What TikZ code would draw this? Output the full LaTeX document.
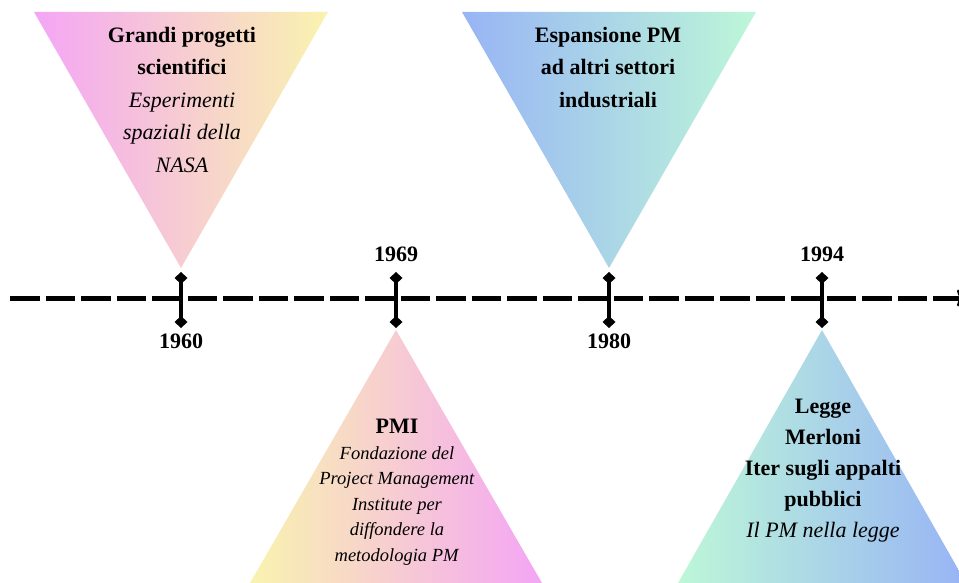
\documentclass[tikz,border=0pt]{standalone}
\usepackage{fontspec}
\setmainfont{LiberationSerif}[Extension=.ttf,
  UprightFont=*-Regular, BoldFont=*-Bold,
  ItalicFont=*-Italic, BoldItalicFont=*-BoldItalic]
\usetikzlibrary{arrows.meta,calc}

\definecolor{orchidL}{HTML}{F4A5F5}
\definecolor{butterL}{HTML}{F9F3AF}
\definecolor{skyL}{HTML}{98B4F5}
\definecolor{mintL}{HTML}{BDF7D8}

\begin{document}
\begin{tikzpicture}[x=1pt,y=-1pt,
  axisline/.style={line width=5pt, dash pattern=on 29.5pt off 6pt,
    -{To[length=7pt,width=17pt,line width=2.5pt]}},
  tickline/.style={line width=3.5pt,
    {Diamond[length=12pt,width=13pt]}-{Diamond[length=12pt,width=13pt]}},
  yearlabel/.style={font=\fontsize{22}{26}\selectfont\bfseries, anchor=base, inner sep=0pt},
  blocktext/.style={align=center, inner sep=0pt, anchor=north,
    font=\fontsize{22}{32.5}\selectfont},
]
\useasboundingbox (0,0) rectangle (959,583);
\clip (0,0) rectangle (959,583);

% timeline points
\coordinate (axisL) at (10,298);
\coordinate (axisR) at (964,298);
\coordinate (y1960) at (181,298);
\coordinate (y1969) at (396,298);
\coordinate (y1980) at (609,298);
\coordinate (y1994) at (822,298);

% shaded pointers
\path[left color=orchidL, right color=butterL]
  (34,12) -- (328,12) -- (181,268) -- cycle;
\path[left color=skyL, right color=mintL]
  (462,12) -- (756,12) -- (609,268) -- cycle;
\path[left color=butterL, right color=orchidL]
  (396,330) -- (542,583) -- (250,583) -- cycle;
\path[left color=mintL, right color=skyL]
  (822,330) -- (966,583) -- (678,583) -- cycle;

% axis
\draw[axisline] (axisL) -- (axisR);

% ticks
\foreach \p in {y1960,y1969,y1980,y1994}
  \draw[tickline] ($(\p)+(0,-26)$) -- ($(\p)+(0,30)$);

% years
\node[yearlabel] (l1960) at (181,348) {1960};
\node[yearlabel] (l1969) at (396,261) {1969};
\node[yearlabel] (l1980) at (609,348) {1980};
\node[yearlabel] (l1994) at (822,261) {1994};

% descriptions
\node[blocktext] (nasa) at (182,27)
  {\textbf{Grandi progetti}\\\textbf{scientifici}\\\textit{Esperimenti}\\\textit{spaziali della}\\\textit{NASA}};
\node[blocktext] (espansione) at (608,27)
  {\textbf{Espansione PM}\\\textbf{ad altri settori}\\\textbf{industriali}};
\node[blocktext, font=\fontsize{18.5}{25.5}\selectfont] (pmi) at (397,419)
  {{\fontsize{22}{25.5}\selectfont\bfseries PMI}\\\textit{Fondazione del}\\\textit{Project Management}\\\textit{Institute per}\\\textit{diffondere la}\\\textit{metodologia PM}};
\node[blocktext, font=\fontsize{22}{31}\selectfont] (merloni) at (823,399)
  {\textbf{Legge}\\\textbf{Merloni}\\\textbf{Iter sugli appalti}\\\textbf{pubblici}\\\textit{Il PM nella legge}};
\end{tikzpicture}
\end{document}
